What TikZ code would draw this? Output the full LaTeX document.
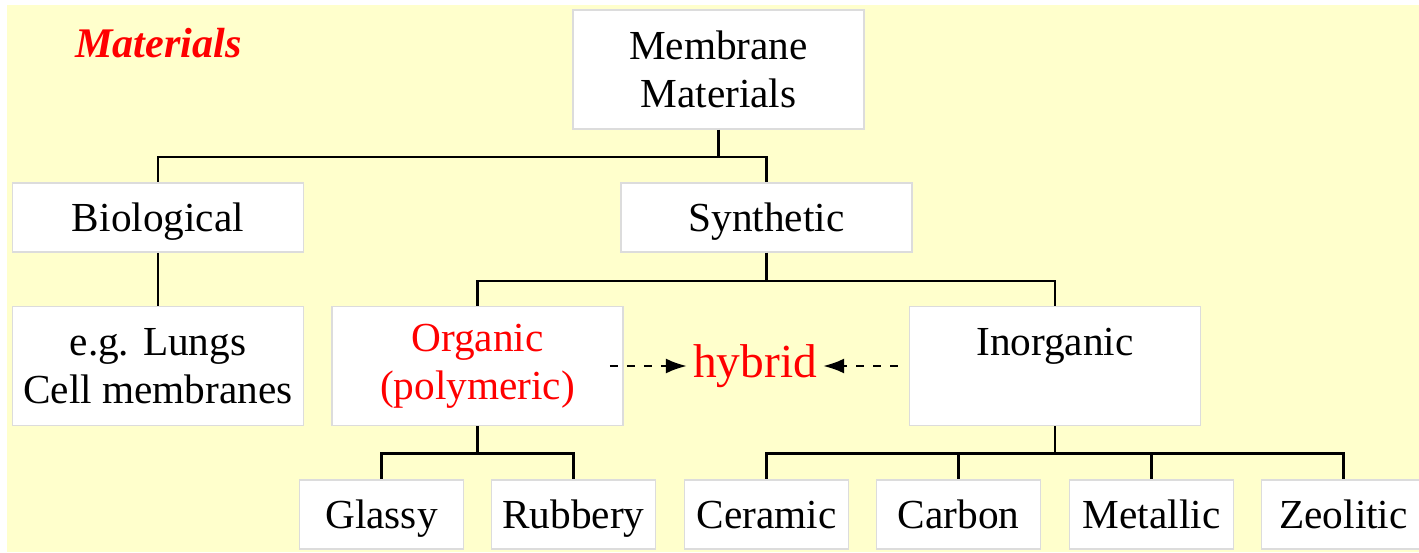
\documentclass[tikz,border=0pt]{standalone}
\usepackage{fontspec}
\setmainfont{Liberation Serif}
\usetikzlibrary{positioning}
\usetikzlibrary{arrows.meta}
\definecolor{paleyellow}{HTML}{FFFFCC}
\definecolor{boxline}{HTML}{DCDCDC}

\begin{document}
\begin{tikzpicture}[x=0.02cm,y=-0.02cm,
  box/.style={draw=boxline,line width=0.9pt,fill=white,align=center,inner sep=0pt,
    font=\fontsize{23.5}{27.2}\selectfont},
  tallbox/.style={box,minimum width=5.82cm,minimum height=2.38cm},
  flatbox/.style={box,minimum width=5.82cm,minimum height=1.38cm,text height=0.72cm,text depth=0.17cm},
  leafbox/.style={box,minimum width=3.28cm,minimum height=1.38cm,text height=0.72cm,text depth=0.17cm},
  link/.style={line width=1.4pt},
  dasharrow/.style={line width=1.4pt,dash pattern=on 0.16cm off 0.18cm,
    -{Latex[length=0.42cm,width=0.3cm]}}]
  \useasboundingbox (0,0) rectangle (1419,553);
  \fill[paleyellow] (7,5) rectangle (1419,552);

  \node[text=red,anchor=west,inner sep=0pt,font=\fontsize{24}{28}\selectfont\bfseries\itshape]
    (title) at (75,43) {Materials};

  % levels of the tree
  \node[tallbox] (mm) at (718.5,69.5) {Membrane\\Materials};
  \node[flatbox] (bio) at (158,217.5) {Biological};
  \node[flatbox] (syn) at (766.5,217.5) {Synthetic};
  \node[tallbox] (eg) at (158,366) {e.g. Lungs\\Cell membranes};
  \node[tallbox,text=red] (org) at (477.5,366) {Organic\\(polymeric)};
  \node[tallbox] (inorg) at (1055,366) {Inorganic\\\phantom{I}};
  \node[text=red,font=\fontsize{27}{30}\selectfont] (hyb) at (755,366) {hybrid};
  \node[leafbox] (gla) at (381.5,514.5) {Glassy};
  \node[leafbox] (rub) at (573.5,514.5) {Rubbery};
  \node[leafbox] (cer) at (766.5,514.5) {Ceramic};
  \node[leafbox] (car) at (958.5,514.5) {Carbon};
  \node[leafbox] (met) at (1151.5,514.5) {Metallic};
  \node[leafbox] (zeo) at (1343.5,514.5) {Zeolitic};

  % tree connectors
  \draw[link] (mm.south) -- ++(0,27) -| (bio.north);
  \draw[link] (mm.south) -- ++(0,27) -| (syn.north);
  \draw[link] (bio) -- (eg);
  \draw[link] (syn.south) -- ++(0,28) -| (org.north);
  \draw[link] (syn.south) -- ++(0,28) -| (inorg.north);
  \foreach \leaf in {gla,rub}
    \draw[link] (org.south) -- ++(0,27) -| (\leaf.north);
  \foreach \leaf in {cer,car,met,zeo}
    \draw[link] (inorg.south) -- ++(0,27) -| (\leaf.north);

  % towards hybrid
  \draw[dasharrow] ([xshift=-0.28cm]org.east) -- (hyb.west);
  \draw[dasharrow] ([xshift=-0.22cm]inorg.west) -- (hyb.east);
\end{tikzpicture}
\end{document}
